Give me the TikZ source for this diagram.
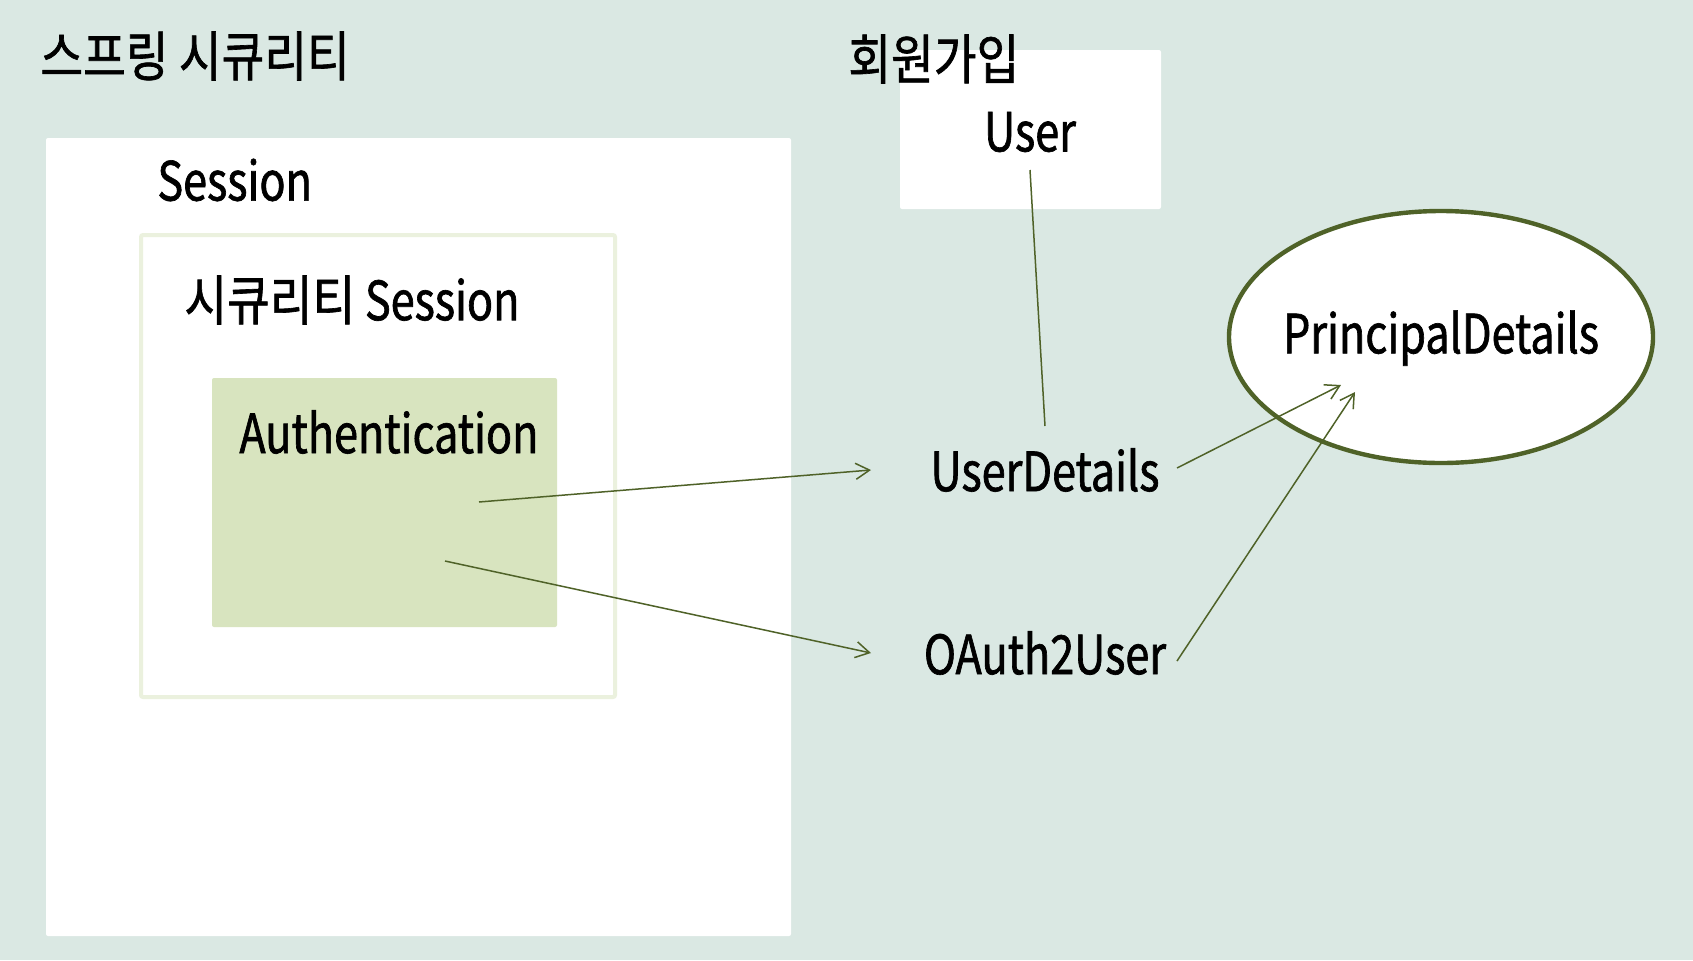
\documentclass[tikz,border=0pt]{standalone}
\usepackage{fontspec}
\setmainfont{Noto Sans CJK KR}[FakeStretch=0.80, FakeBold=1.2]
\newfontfamily\kr{Noto Sans CJK KR}[FakeStretch=0.86, FakeBold=1.2]
\usetikzlibrary{arrows.meta,shapes.geometric,calc}
\definecolor{bgc}{RGB}{218,232,227}
\definecolor{authc}{RGB}{216,228,191}
\definecolor{innerc}{RGB}{235,241,222}
\definecolor{olive}{RGB}{79,98,40}
\tikzset{
  lbl/.style={inner sep=0pt, font=\fontsize{27}{32}\selectfont, text=black},
  panel/.style={fill=white, draw=none, rounded corners=1pt, inner sep=0pt},
  conn/.style={draw=olive, line width=0.75pt},
  arr/.style={conn, -{Straight Barb[angle=60:8pt, line width=0.75pt]}}
}
\begin{document}
\begin{tikzpicture}[x=0.5pt,y=-0.5pt]
\fill[bgc] (0,0) rectangle (1693,960);
\useasboundingbox (0,0) rectangle (1693,960);
% title
\node[lbl, anchor=west] (title) at (40,56) {\kr 스프링 시큐리티};
% outer session box
\node[panel, minimum width=372.5pt, minimum height=399pt] (outer) at (418.5,537) {};
\node[lbl, anchor=west] (sess) at (157,180) {Session};
% security session box
\node[panel, draw=innerc, line width=2pt, minimum width=237pt, minimum height=231pt] (inner) at (378,466) {};
\node[lbl, anchor=west] (secsess) at (184,300) {{\kr 시큐리티} Session};
% authentication box
\node[panel, fill=authc, minimum width=172.5pt, minimum height=124.5pt] (auth) at (384.5,502.5) {};
\node[lbl, anchor=west] (authl) at (239,432) {Authentication};
% join
\node[panel, minimum width=130.5pt, minimum height=79.5pt] (userbox) at (1030.5,129.5) {};
\node[lbl, anchor=west] (join) at (848,59) {\kr 회원가입};
\node[lbl] (user) at (1030,132) {User};
% ellipse
\node[ellipse, fill=white, draw=olive, line width=2.2pt, minimum width=212pt, minimum height=126pt, inner sep=0pt] (pd) at (1441,337) {};
\node[lbl] (pdl) at (1441,338) {PrincipalDetails};
% targets
\node[lbl] (ud) at (1045,470) {UserDetails};
\node[lbl] (ou) at (1045,653) {OAuth2User};
% connector anchors
\coordinate (a1) at (479,502);
\coordinate (a2) at (445,561);
\coordinate (udin) at (871,470);
\coordinate (ouin) at (871,653);
\coordinate (udout) at (1177,468);
\coordinate (ouout) at (1177,661);
\coordinate (pdin1) at (1341,385);
\coordinate (pdin2) at (1355,392);
\coordinate (ubot) at (1030,170);
\coordinate (udtop) at (1045,426);
% connectors
\draw[conn] (ubot) -- (udtop);
\draw[arr] (a1) -- (udin);
\draw[arr] (a2) -- (ouin);
\draw[arr] (udout) -- (pdin1);
\draw[arr] (ouout) -- (pdin2);
\end{tikzpicture}
\end{document}
